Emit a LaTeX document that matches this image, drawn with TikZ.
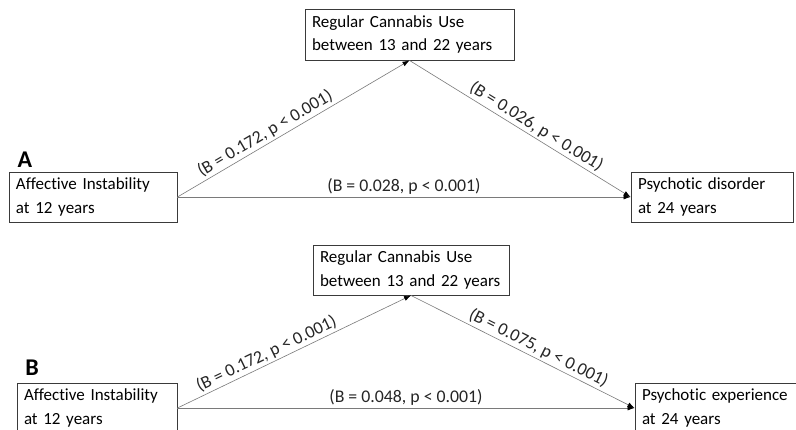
\documentclass[tikz,border=0pt]{standalone}
\usepackage{fontspec}
\setmainfont{Carlito}[Ligatures=NoCommon]
\usetikzlibrary{arrows.meta}
\definecolor{boxline}{HTML}{3A3A3A}
\definecolor{conn}{HTML}{7A7A7A}
\begin{document}
\begin{tikzpicture}[x=1pt,y=-1pt,
  every node/.style={font=\fontsize{17.8}{23.5}\selectfont},
  vbox/.style={draw=boxline, line width=0.9pt, rectangle, inner xsep=7pt, inner ysep=0pt, align=left, anchor=center, font=\fontsize{17}{23.5}\selectfont},
  conn/.style={draw=conn, line width=0.6pt, -{Latex[length=7pt,width=5pt,color=black]}},
  lab/.style={sloped, above, inner sep=2pt, text=black!85},
  panel/.style={font=\fontsize{24}{24}\selectfont\bfseries}
]
\clip (0,0) rectangle (796,429);
\fill[white] (0,0) rectangle (796,429);
% Panel A
\node[vbox, text width=195pt, minimum height=51pt] (At) at (409.5,34.5) {\mbox{Regular Cannabis Use}\\\mbox{between 13 and 22 years}};
\node[vbox, text width=154pt, minimum height=50pt] (Al) at (93,197) {\mbox{Affective Instability}\\\mbox{at 12 years}};
\node[vbox, text width=148pt, minimum height=50pt] (Ar) at (712,197) {\mbox{Psychotic disorder}\\\mbox{at 24 years}};
\node[panel, anchor=center] (LA) at (25,160) {A};
\draw[conn] (Al.east) -- node[lab, pos=0.4] {(B = 0.172, p < 0.001)} (At.south);
\draw[conn] (At.south) -- node[lab, pos=0.55] {(B = 0.026, p < 0.001)} (Ar.west);
\draw[conn] (Al.east) -- node[lab, pos=0.5] {(B = 0.028, p < 0.001)} (Ar.west);
% Panel B
\node[vbox, text width=182pt, minimum height=50pt] (Bt) at (411,270) {\mbox{Regular Cannabis Use}\\\mbox{between 13 and 22 years}};
\node[vbox, text width=146pt, minimum height=50pt] (Bl) at (97,408) {\mbox{Affective Instability}\\\mbox{at 12 years}};
\node[vbox, text width=151pt, minimum height=50pt] (Br) at (717.5,408) {\mbox{Psychotic experience}\\\mbox{at 24 years}};
\node[panel, anchor=center] (LB) at (32,368) {B};
\draw[conn] (Bl.east) -- node[lab, pos=0.4] {(B = 0.172, p < 0.001)} (Bt.south);
\draw[conn] (Bt.south) -- node[lab, pos=0.55] {(B = 0.075, p < 0.001)} (Br.west);
\draw[conn] (Bl.east) -- node[lab, pos=0.5] {(B = 0.048, p < 0.001)} (Br.west);
\end{tikzpicture}
\end{document}
